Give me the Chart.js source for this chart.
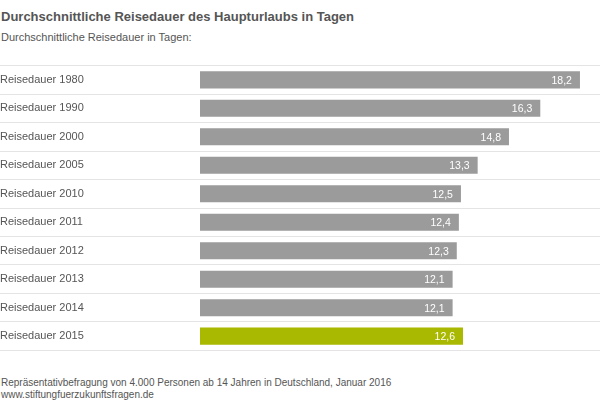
<!DOCTYPE html>
<html lang="de">
<head>
<meta charset="utf-8">
<title>Durchschnittliche Reisedauer des Haupturlaubs in Tagen</title>
<script src="https://cdn.jsdelivr.net/npm/chart.js@4/dist/chart.umd.min.js"></script>
<style>
  body { margin: 0; background: #fff; font-family: "Liberation Sans", Arial, sans-serif; color: #555; }
  #page { position: relative; width: 600px; height: 404px; overflow: hidden; }
  .txt { position: absolute; left: 1px; white-space: nowrap; }
  #title { top: 9px; font-size: 13px; line-height: 16px; font-weight: bold; }
  #subtitle { top: 30px; font-size: 11px; line-height: 14px; }
  #footer { top: 377px; font-size: 10px; line-height: 12px; }
  #chartBox { position: absolute; left: 0; top: 59px; width: 600px; height: 298px; }
</style>
</head>
<body>
<div id="page">
  <div id="title" class="txt">Durchschnittliche Reisedauer des Haupturlaubs in Tagen</div>
  <div id="subtitle" class="txt">Durchschnittliche Reisedauer in Tagen:</div>
  <div id="chartBox"><canvas id="reiseChart" width="600" height="298"></canvas></div>
  <div id="footer" class="txt">Repräsentativbefragung von 4.000 Personen ab 14 Jahren in Deutschland, Januar 2016<br>www.stiftungfuerzukunftsfragen.de</div>
</div>
<script>
const categories = [
  "Reisedauer 1980", "Reisedauer 1990", "Reisedauer 2000", "Reisedauer 2005",
  "Reisedauer 2010", "Reisedauer 2011", "Reisedauer 2012", "Reisedauer 2013",
  "Reisedauer 2014", "Reisedauer 2015"
];
const days = [18.2, 16.3, 14.8, 13.3, 12.5, 12.4, 12.3, 12.1, 12.1, 12.6];
const barColors = days.map((d, i) => i === days.length - 1 ? "#a9b800" : "#9b9b9b");

// white value labels inside the bar end
const valueLabels = {
  id: "valueLabels",
  afterDatasetsDraw(chart) {
    const ctx = chart.ctx;
    const meta = chart.getDatasetMeta(0);
    ctx.save();
    ctx.font = "10.5px 'Liberation Sans', Arial, sans-serif";
    ctx.fillStyle = "#ffffff";
    ctx.textAlign = "right";
    ctx.textBaseline = "middle";
    meta.data.forEach((bar, i) => {
      const text = days[i].toFixed(1).replace(".", ",");
      ctx.fillText(text, bar.x - 8, bar.y + 1);
    });
    ctx.restore();
  }
};

new Chart(document.getElementById("reiseChart"), {
  type: "bar",
  data: {
    labels: categories,
    datasets: [{
      data: days,
      backgroundColor: barColors,
      borderWidth: 0,
      categoryPercentage: 1,
      barPercentage: 0.6
    }]
  },
  options: {
    indexAxis: "y",
    responsive: false,
    animation: false,
    layout: { padding: { top: 2, bottom: 3, left: 0, right: 0 } },
    plugins: {
      legend: { display: false },
      tooltip: { enabled: false }
    },
    scales: {
      x: {
        display: false,
        min: 0,
        max: 19.16
      },
      y: {
        afterFit: scale => { scale.width = 200; },
        border: { display: false },
        grid: {
          offset: true,
          color: "#e4e4e4",
          lineWidth: 1,
          drawTicks: true,
          tickLength: 200
        },
        ticks: {
          crossAlign: "far",
          padding: 0,
          color: "#555555",
          font: { family: "'Liberation Sans', Arial, sans-serif", size: 11 }
        }
      }
    }
  },
  plugins: [valueLabels]
});
</script>
</body>
</html>
